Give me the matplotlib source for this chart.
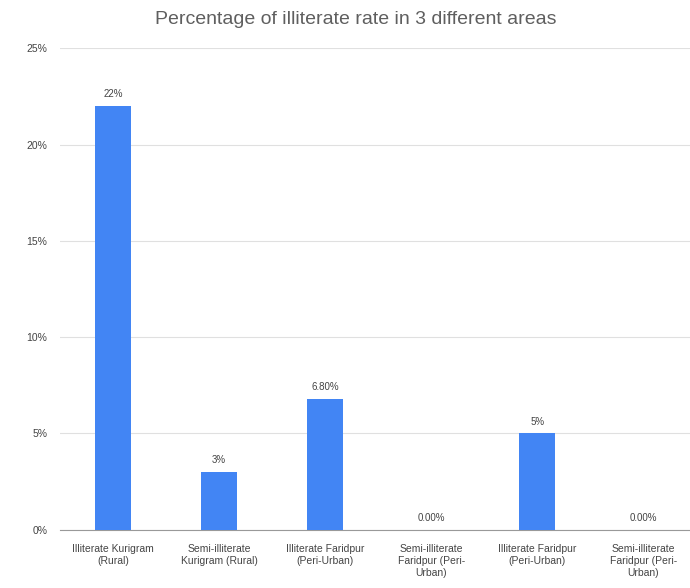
import matplotlib.pyplot as plt
import numpy as np

plt.rcParams['font.family'] = ['Liberation Sans', 'DejaVu Sans']

# illiteracy rates by area
categories = ['Illiterate Kurigram\n(Rural)', 'Semi-illiterate\nKurigram (Rural)',
              'Illiterate Faridpur\n(Peri-Urban)', 'Semi-illiterate\nFaridpur (Peri-\nUrban)',
              'Illiterate Faridpur\n(Peri-Urban)', 'Semi-illiterate\nFaridpur (Peri-\nUrban)']
values = [22, 3, 6.8, 0, 5, 0]
value_labels = ['22%', '3%', '6.80%', '0.00%', '5%', '0.00%']
yticks = [0, 5, 10, 15, 20, 25]

fig = plt.figure(figsize=(6.9, 5.88), dpi=100)
ax = fig.add_axes([0.087, 0.099, 0.922, 0.819])

x = np.arange(len(categories))
ax.bar(x, values, width=0.34, color='#4285f4', zorder=3)
for xi, v, lab in zip(x, values, value_labels):
    ax.text(xi, v + 0.35, lab, ha='center', va='bottom', fontsize=7, color='#444444')

ax.set_xlim(-0.5, len(categories) - 0.5)
ax.set_ylim(0, 25)
ax.set_yticks(yticks)
ax.set_yticklabels([f'{t}%' for t in yticks], fontsize=7.5, color='#444444')
ax.set_xticks(x)
ax.set_xticklabels(categories, fontsize=7.5, color='#444444', linespacing=1.3)
ax.tick_params(length=0)
ax.tick_params(axis='x', pad=10)
ax.tick_params(axis='y', pad=9)
ax.grid(axis='y', color='#e0e0e0', linewidth=0.8, zorder=0)
for s in ['top', 'right', 'left']:
    ax.spines[s].set_visible(False)
ax.spines['bottom'].set_color('#999999')
ax.spines['bottom'].set_linewidth(0.8)

fig.text(0.515, 0.967, 'Percentage of illiterate rate in 3 different areas',
         ha='center', va='center', fontsize=14, color='#5f5f5f')

fig.savefig('out.png', dpi=100)
